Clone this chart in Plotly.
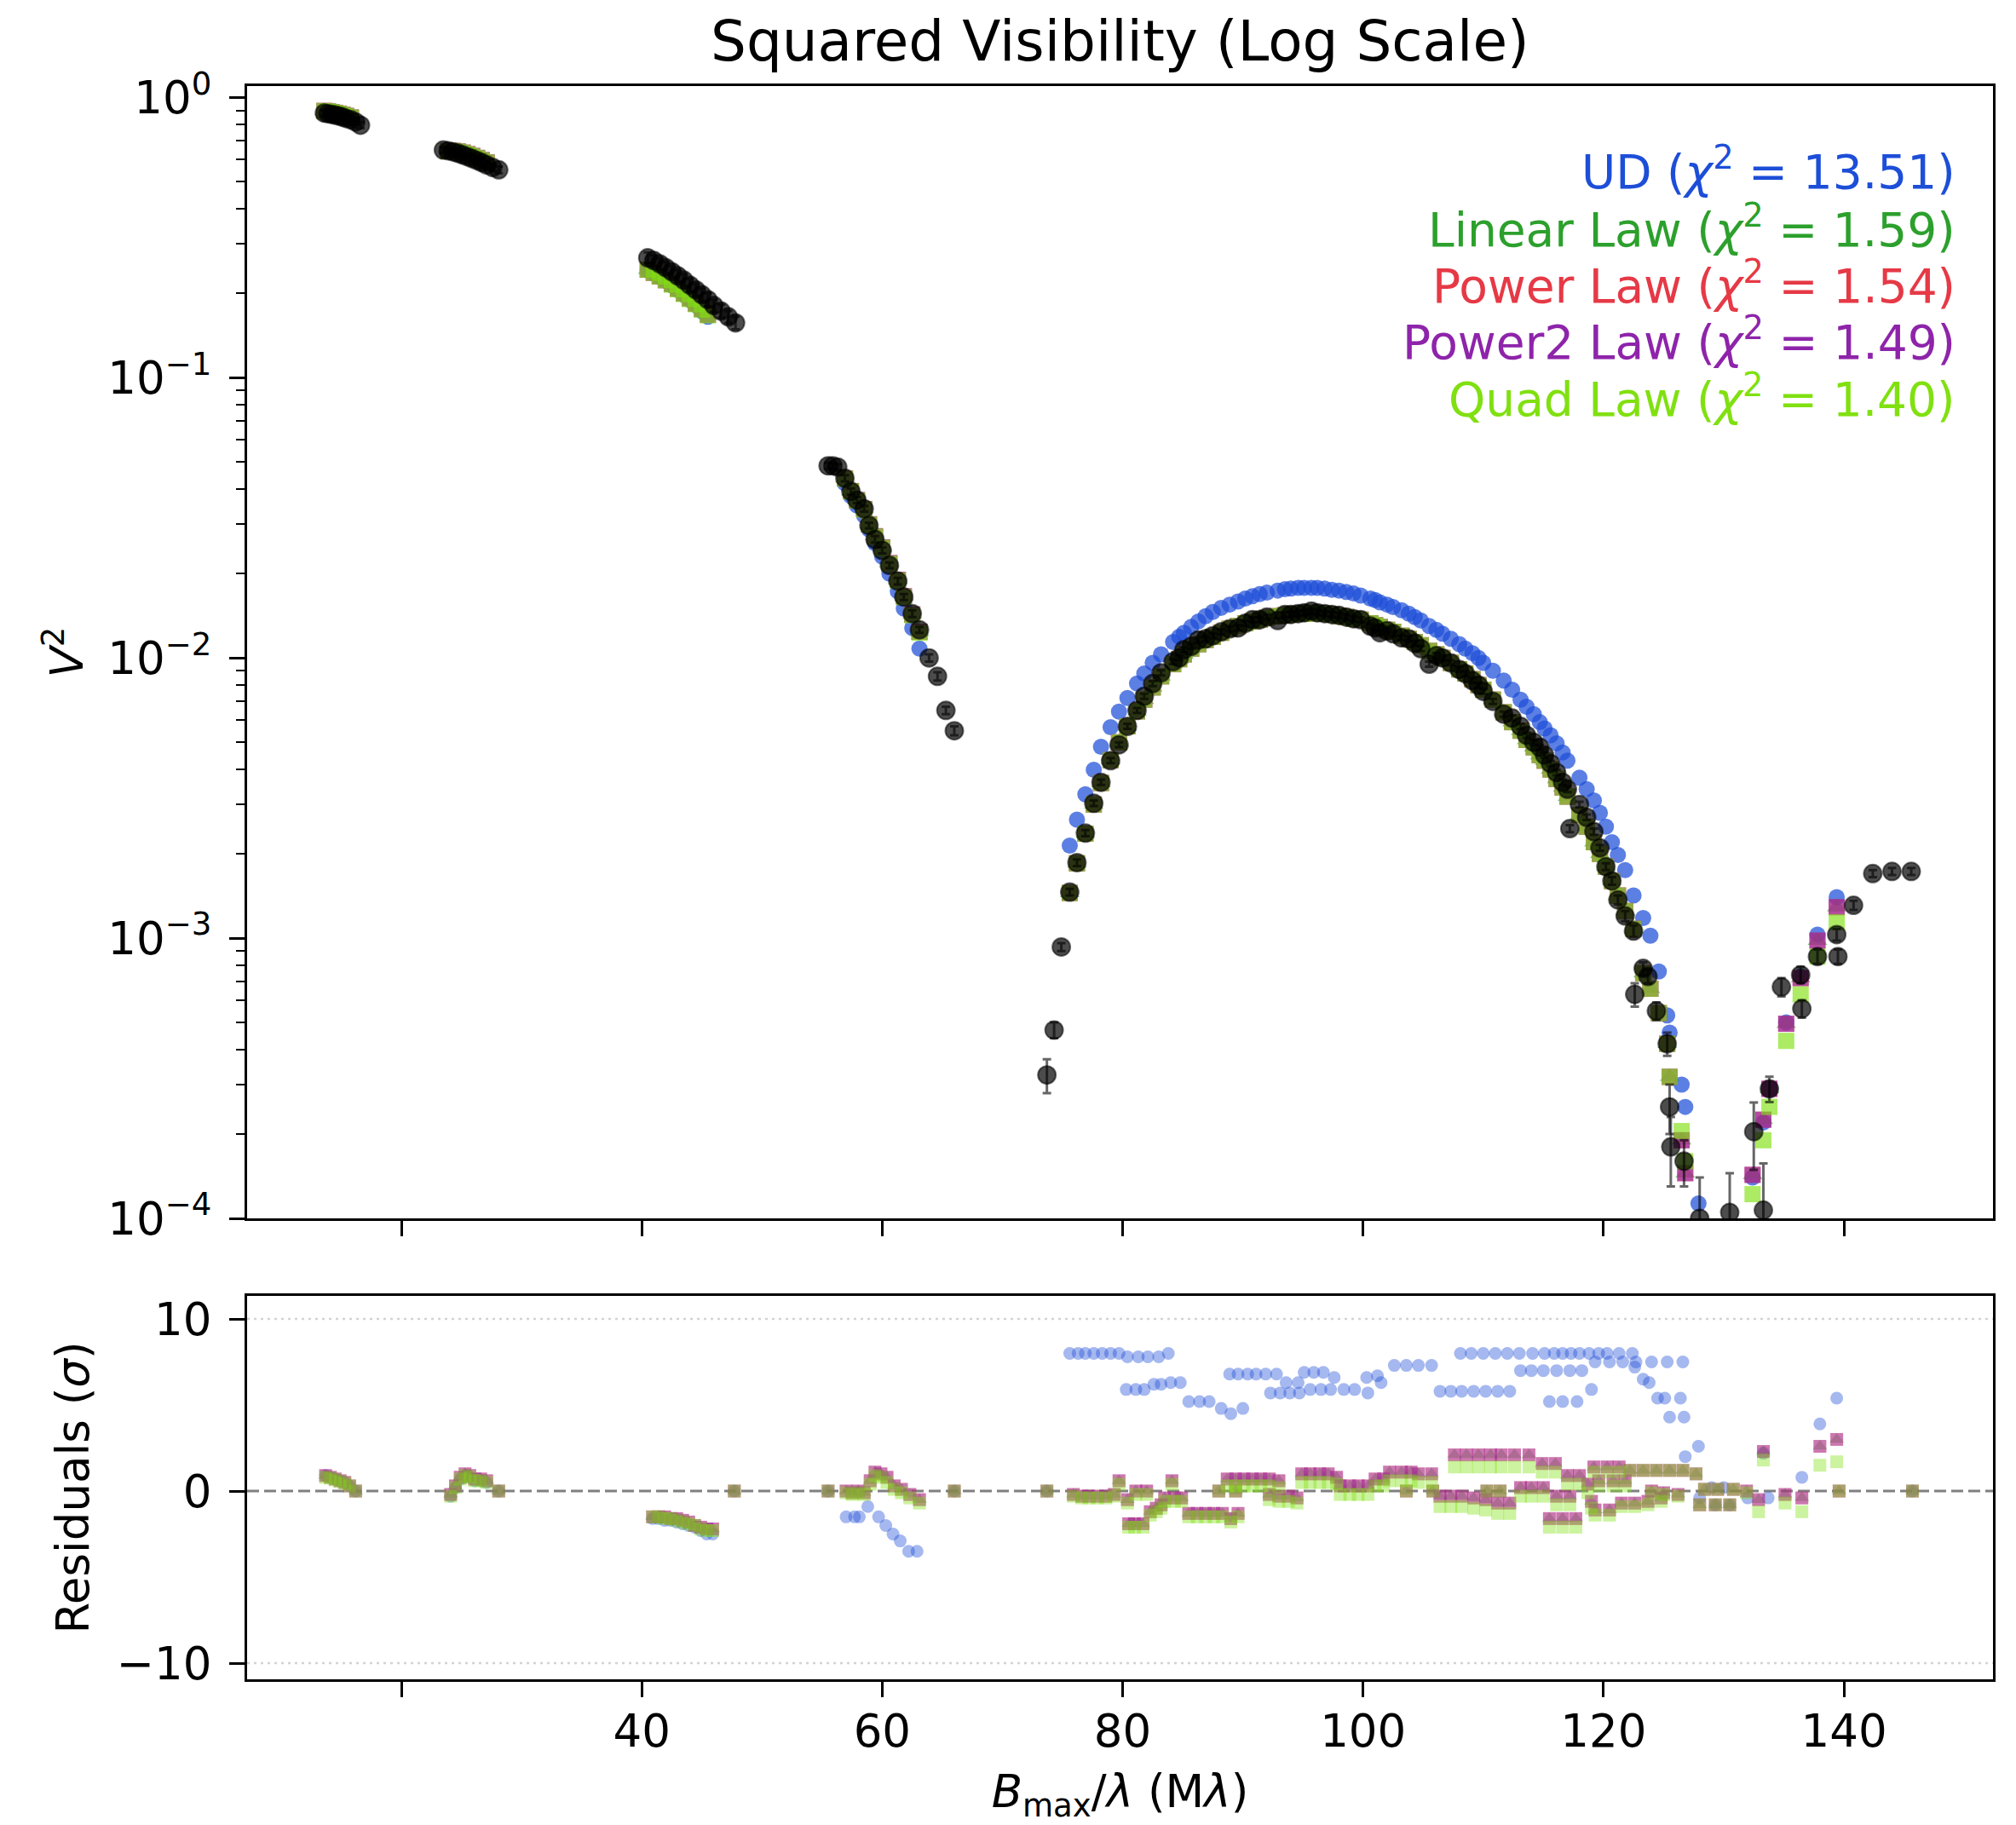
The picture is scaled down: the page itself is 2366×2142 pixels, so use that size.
import plotly.graph_objects as go

# ---------------- data ----------------
# observed squared visibilities (black points with error bars)
obs_x = [
    13.6, 13.9, 14.2, 14.5, 14.8, 15.1, 15.4, 15.8, 16.2, 16.6,
    23.5, 23.9, 24.3, 24.7, 25.1, 25.5, 25.9, 26.3, 26.7, 27.1, 27.6, 28.1,
    40.5, 41.0, 41.5, 42.0, 42.5, 43.0, 43.5, 44.0, 44.5, 45.0, 45.5, 46.0, 46.6, 47.2, 47.8,
    55.5, 55.9, 56.3, 56.9, 57.4, 57.9, 58.5, 58.9, 59.4, 60.0, 60.6, 61.3, 61.8, 62.5, 63.1,
    63.9, 64.6, 65.3, 66.0,
    73.7, 74.3, 74.9, 75.6, 76.2, 76.9, 77.6, 78.2, 79.0, 79.7,
    80.4, 81.2, 81.8, 82.5, 83.2, 84.2, 84.7, 85.1, 85.7, 86.3,
    86.9, 87.5, 88.2, 88.9, 89.6, 90.2, 90.8, 91.4, 92.0, 92.9,
    93.5, 94.0, 94.6, 95.1, 95.7, 96.2, 96.8, 97.4, 98.0, 98.6,
    99.2, 99.8, 100.6, 101.0, 101.4, 102.0, 102.5, 103.2, 103.8, 104.3,
    104.8, 105.5, 106.1, 106.6, 107.3, 108.0, 108.5, 109.1, 109.6, 110.0,
    110.8, 111.7, 112.4, 113.1, 113.6, 114.2, 114.7, 115.1, 115.6, 116.1,
    116.6, 117.0, 117.2, 118.0, 118.6, 119.2, 119.7, 120.2, 120.7, 121.2,
    121.8, 122.5, 122.6, 123.3, 123.7, 124.4, 125.3, 125.5, 125.6, 126.7,
    128.0, 130.5, 132.5, 133.3, 133.8, 134.8, 136.4, 136.5, 137.8, 139.4,
    139.5, 140.8, 142.4, 144.0, 145.6,
]
obs_v2 = [
    0.880, 0.876, 0.871, 0.866, 0.860, 0.852, 0.843, 0.833, 0.818, 0.797,
    0.650, 0.646, 0.640, 0.633, 0.624, 0.615, 0.606, 0.596, 0.586, 0.575, 0.563, 0.552,
    0.268, 0.262, 0.255, 0.247, 0.239, 0.231, 0.223, 0.214, 0.206, 0.198, 0.190, 0.181, 0.173, 0.165, 0.157,
    0.0485, 0.0485, 0.0480, 0.0438, 0.0393, 0.0366, 0.0341, 0.0297, 0.0265, 0.0242, 0.0214, 0.0188, 0.0165, 0.0144, 0.0126,
    0.0100, 0.0086, 0.0065, 0.0055,
    3.25e-4, 4.7e-4, 9.3e-4, 1.46e-3, 1.86e-3, 2.37e-3, 3.03e-3, 3.60e-3, 4.30e-3, 4.90e-3,
    5.70e-3, 6.50e-3, 7.30e-3, 8.10e-3, 8.85e-3, 9.70e-3, 1.00e-2, 1.07e-2, 1.10e-2, 1.16e-2,
    1.17e-2, 1.20e-2, 1.24e-2, 1.27e-2, 1.28e-2, 1.33e-2, 1.37e-2, 1.37e-2, 1.40e-2, 1.36e-2,
    1.43e-2, 1.43e-2, 1.44e-2, 1.45e-2, 1.47e-2, 1.45e-2, 1.44e-2, 1.43e-2, 1.42e-2, 1.40e-2,
    1.38e-2, 1.37e-2, 1.30e-2, 1.28e-2, 1.23e-2, 1.25e-2, 1.22e-2, 1.18e-2, 1.17e-2, 1.13e-2,
    1.08e-2, 9.5e-3, 1.02e-2, 1.00e-2, 9.6e-3, 9.1e-3, 8.8e-3, 8.3e-3, 8.0e-3, 7.6e-3,
    7.0e-3, 6.3e-3, 6.1e-3, 5.7e-3, 5.3e-3, 5.0e-3, 4.8e-3, 4.5e-3, 4.2e-3, 3.9e-3,
    3.6e-3, 3.4e-3, 2.46e-3, 3.0e-3, 2.7e-3, 2.4e-3, 2.1e-3, 1.8e-3, 1.6e-3, 1.37e-3,
    1.2e-3, 1.06e-3, 6.3e-4, 7.8e-4, 7.3e-4, 5.5e-4, 4.2e-4, 2.5e-4, 1.8e-4, 1.6e-4,
    1.0e-4, 1.05e-4, 2.04e-4, 1.07e-4, 2.9e-4, 6.7e-4, 7.4e-4, 5.6e-4, 8.6e-4, 1.03e-3,
    8.6e-4, 1.31e-3, 1.70e-3, 1.73e-3, 1.73e-3,
]
obs_err = [
    0.020, 0.020, 0.020, 0.020, 0.020, 0.020, 0.020, 0.020, 0.020, 0.020,
    0.015, 0.015, 0.015, 0.015, 0.015, 0.015, 0.015, 0.015, 0.015, 0.015, 0.015, 0.015,
    0.012, 0.012, 0.012, 0.012, 0.012, 0.011, 0.011, 0.011, 0.010, 0.010, 0.010, 0.009, 0.009, 0.008, 0.008,
    0.0012, 0.0012, 0.0012, 0.0011, 0.0010, 0.0009, 0.0008, 0.0007, 0.0007, 0.0006, 0.0005, 0.0005, 0.0004, 0.0004, 0.0003,
    0.0003, 0.0003, 0.0002, 0.0002,
    4.5e-5, 3e-5, 3e-5, 4e-5, 5e-5, 6e-5, 7e-5, 8e-5, 9e-5, 1.0e-4,
    1.2e-4, 1.3e-4, 1.5e-4, 1.6e-4, 1.8e-4, 2.0e-4, 2.0e-4, 2.2e-4, 2.2e-4, 2.4e-4,
    2.4e-4, 2.5e-4, 2.5e-4, 2.6e-4, 2.6e-4, 2.7e-4, 2.8e-4, 2.8e-4, 2.8e-4, 2.8e-4,
    2.9e-4, 2.9e-4, 2.9e-4, 2.9e-4, 2.9e-4, 2.9e-4, 2.9e-4, 2.9e-4, 2.9e-4, 2.9e-4,
    2.8e-4, 2.8e-4, 2.6e-4, 2.6e-4, 2.5e-4, 2.5e-4, 2.5e-4, 2.4e-4, 2.4e-4, 2.3e-4,
    2.2e-4, 2.0e-4, 2.1e-4, 2.0e-4, 2.0e-4, 1.9e-4, 1.8e-4, 1.7e-4, 1.6e-4, 1.6e-4,
    1.5e-4, 1.3e-4, 1.3e-4, 1.2e-4, 1.1e-4, 1.0e-4, 1.0e-4, 1.0e-4, 9e-5, 9e-5,
    8e-5, 8e-5, 7e-5, 7e-5, 6e-5, 6e-5, 5e-5, 5e-5, 5e-5, 5e-5,
    5e-5, 5e-5, 6e-5, 4e-5, 4e-5, 4e-5, 4e-5, 5e-5, 5e-5, 3e-5,
    4e-5, 4e-5, 5.5e-5, 5e-5, 3e-5, 5e-5, 5e-5, 4e-5, 5e-5, 5e-5,
    5e-5, 5e-5, 5e-5, 5e-5, 5e-5,
]

# model visibilities (Linear, Power and Power2 laws coincide at this scale)
mod_x = [
    13.6, 13.9, 14.2, 14.5, 14.8, 15.1, 15.4, 15.8,
    23.9, 24.3, 24.7, 25.1, 25.5, 25.9, 26.3, 26.7, 27.1,
    40.5, 41.0, 41.5, 42.0, 42.5, 43.0, 43.5, 44.0, 44.5, 45.0, 45.5,
    56.9, 57.4, 57.9, 58.5, 58.9, 59.4, 60.0, 60.6, 61.3, 61.8, 62.5, 63.1,
    75.6, 76.2, 76.9, 77.6, 78.2, 79.0, 79.7, 80.4, 81.2, 81.8,
    82.5, 83.2, 84.2, 84.7, 85.1, 85.7, 86.3, 86.9, 87.5, 88.2,
    88.9, 89.6, 90.2, 90.8, 91.4, 92.0, 92.9, 93.5, 94.0, 94.6,
    95.1, 95.7, 96.2, 96.8, 97.4, 98.0, 98.6, 99.2, 99.8, 100.6,
    101.0, 101.4, 102.0, 102.5, 103.2, 103.8, 104.3, 104.8, 105.5, 106.1,
    106.6, 107.3, 108.0, 108.5, 109.1, 109.6, 110.0, 110.8, 111.7, 112.4,
    113.1, 113.6, 114.2, 114.7, 115.1, 115.6, 116.1, 116.6, 117.0, 118.0,
    118.6, 119.2, 119.7, 120.2, 120.7, 121.2, 121.8, 122.5, 123.3, 123.9,
    124.6, 125.3, 125.5, 126.5, 126.8, 127.9, 129.3, 130.5, 132.4, 133.3,
    133.8, 135.2, 136.4, 137.8, 139.4,
]
ud_v2 = [
    0.893, 0.889, 0.884, 0.879, 0.873, 0.866, 0.858, 0.848,
    0.642, 0.643, 0.640, 0.634, 0.626, 0.617, 0.607, 0.596, 0.585,
    0.242, 0.236, 0.229, 0.222, 0.214, 0.206, 0.198, 0.190, 0.182, 0.173, 0.165,
    0.0420, 0.0378, 0.0350, 0.0322, 0.0288, 0.0257, 0.0230, 0.0200, 0.0173, 0.0150, 0.0128, 0.0108,
    2.14e-3, 2.65e-3, 3.26e-3, 3.99e-3, 4.82e-3, 5.66e-3, 6.43e-3, 7.20e-3, 8.10e-3, 8.80e-3,
    9.60e-3, 1.03e-2, 1.14e-2, 1.19e-2, 1.23e-2, 1.29e-2, 1.35e-2, 1.41e-2, 1.46e-2, 1.51e-2,
    1.55e-2, 1.59e-2, 1.63e-2, 1.66e-2, 1.69e-2, 1.71e-2, 1.74e-2, 1.76e-2, 1.77e-2, 1.78e-2,
    1.78e-2, 1.78e-2, 1.78e-2, 1.77e-2, 1.75e-2, 1.74e-2, 1.72e-2, 1.70e-2, 1.67e-2, 1.63e-2,
    1.61e-2, 1.58e-2, 1.55e-2, 1.52e-2, 1.48e-2, 1.44e-2, 1.40e-2, 1.36e-2, 1.30e-2, 1.26e-2,
    1.22e-2, 1.17e-2, 1.12e-2, 1.08e-2, 1.04e-2, 1.00e-2, 9.6e-3, 9.0e-3, 8.3e-3, 7.7e-3,
    7.1e-3, 6.7e-3, 6.3e-3, 5.9e-3, 5.6e-3, 5.3e-3, 4.96e-3, 4.6e-3, 4.3e-3, 3.74e-3,
    3.4e-3, 3.1e-3, 2.8e-3, 2.5e-3, 2.2e-3, 1.98e-3, 1.75e-3, 1.42e-3, 1.18e-3, 1.02e-3,
    7.6e-4, 5.3e-4, 4.6e-4, 3.0e-4, 2.5e-4, 1.13e-4, 3.0e-5, 5.0e-5, 1.4e-4, 2.2e-4,
    2.9e-4, 5.0e-4, 7.3e-4, 1.03e-3, 1.40e-3,
]
ld_v2 = [
    0.896, 0.892, 0.887, 0.882, 0.876, 0.868, 0.860, 0.849,
    0.644, 0.645, 0.642, 0.636, 0.628, 0.619, 0.609, 0.598, 0.587,
    0.243, 0.237, 0.230, 0.223, 0.216, 0.208, 0.200, 0.192, 0.184, 0.176, 0.168,
    0.0437, 0.0394, 0.0366, 0.0340, 0.0300, 0.0272, 0.0248, 0.0218, 0.0190, 0.0166, 0.0143, 0.0124,
    1.45e-3, 1.85e-3, 2.36e-3, 3.00e-3, 3.58e-3, 4.32e-3, 5.00e-3, 5.70e-3, 6.45e-3, 7.10e-3,
    7.85e-3, 8.60e-3, 9.50e-3, 9.90e-3, 1.03e-2, 1.08e-2, 1.12e-2, 1.16e-2, 1.19e-2, 1.23e-2,
    1.27e-2, 1.30e-2, 1.33e-2, 1.35e-2, 1.37e-2, 1.39e-2, 1.41e-2, 1.42e-2, 1.43e-2, 1.44e-2,
    1.44e-2, 1.45e-2, 1.44e-2, 1.44e-2, 1.43e-2, 1.41e-2, 1.40e-2, 1.38e-2, 1.37e-2, 1.33e-2,
    1.31e-2, 1.29e-2, 1.26e-2, 1.24e-2, 1.20e-2, 1.17e-2, 1.14e-2, 1.11e-2, 1.06e-2, 1.03e-2,
    1.00e-2, 9.6e-3, 9.1e-3, 8.8e-3, 8.4e-3, 8.0e-3, 7.7e-3, 7.1e-3, 6.4e-3, 5.9e-3,
    5.5e-3, 5.1e-3, 4.8e-3, 4.5e-3, 4.3e-3, 4.0e-3, 3.7e-3, 3.45e-3, 3.2e-3, 2.75e-3,
    2.5e-3, 2.2e-3, 2.0e-3, 1.8e-3, 1.6e-3, 1.42e-3, 1.25e-3, 1.08e-3, 7.5e-4, 6.6e-4,
    5.4e-4, 4.2e-4, 3.2e-4, 1.9e-4, 1.45e-4, 6.0e-5, 1.5e-5, 3.0e-5, 1.43e-4, 2.25e-4,
    2.9e-4, 4.95e-4, 7.2e-4, 9.8e-4, 1.29e-3,
]
quad_v2 = [
    0.895, 0.891, 0.886, 0.881, 0.875, 0.867, 0.859, 0.848,
    0.643, 0.644, 0.641, 0.635, 0.627, 0.618, 0.608, 0.597, 0.586,
    0.243, 0.237, 0.230, 0.223, 0.215, 0.207, 0.199, 0.191, 0.183, 0.175, 0.167,
    0.0436, 0.0393, 0.0365, 0.0339, 0.0299, 0.0271, 0.0247, 0.0217, 0.0189, 0.0165, 0.0142, 0.0123,
    1.45e-3, 1.85e-3, 2.36e-3, 3.00e-3, 3.58e-3, 4.32e-3, 5.00e-3, 5.70e-3, 6.45e-3, 7.10e-3,
    7.85e-3, 8.60e-3, 9.50e-3, 9.90e-3, 1.03e-2, 1.08e-2, 1.12e-2, 1.16e-2, 1.19e-2, 1.23e-2,
    1.27e-2, 1.30e-2, 1.33e-2, 1.35e-2, 1.37e-2, 1.39e-2, 1.41e-2, 1.42e-2, 1.43e-2, 1.44e-2,
    1.44e-2, 1.45e-2, 1.44e-2, 1.44e-2, 1.43e-2, 1.41e-2, 1.40e-2, 1.38e-2, 1.37e-2, 1.33e-2,
    1.31e-2, 1.29e-2, 1.26e-2, 1.24e-2, 1.20e-2, 1.17e-2, 1.14e-2, 1.11e-2, 1.06e-2, 1.03e-2,
    1.00e-2, 9.6e-3, 9.1e-3, 8.8e-3, 8.4e-3, 8.0e-3, 7.7e-3, 7.1e-3, 6.4e-3, 5.9e-3,
    5.5e-3, 5.1e-3, 4.8e-3, 4.5e-3, 4.3e-3, 4.0e-3, 3.7e-3, 3.45e-3, 3.2e-3, 2.75e-3,
    2.5e-3, 2.2e-3, 2.0e-3, 1.8e-3, 1.6e-3, 1.42e-3, 1.25e-3, 1.08e-3, 7.5e-4, 6.6e-4,
    5.4e-4, 4.2e-4, 3.2e-4, 2.05e-4, 1.6e-4, 5.0e-5, 1.2e-5, 2.5e-5, 1.22e-4, 1.9e-4,
    2.5e-4, 4.3e-4, 6.3e-4, 8.6e-4, 1.14e-3,
]

# residuals of the uniform disk fit, in sigma
res_ud_x = [
    13.7, 14.1, 14.5, 14.9, 15.3, 15.7, 16.2,
    24.1, 24.5, 24.9, 25.3, 25.7, 26.1, 26.6, 27.1, 28.1,
    40.9, 41.4, 41.9, 42.4, 42.9, 43.4, 43.9, 44.4, 44.9, 45.4, 45.9, 47.7,
    55.5, 57.0, 57.7, 58.1, 58.8, 59.7, 60.3, 60.9, 61.5, 62.2, 62.9, 66.0, 73.7,
    75.6, 76.3, 76.9, 77.6, 78.3, 79.0, 79.7, 80.4, 81.3, 82.1, 83.0, 83.8,
    80.3, 81.1, 81.8, 82.6, 83.2, 84.0, 84.8,
    85.5, 86.4, 87.2, 88.2, 89.0, 90.0,
    88.9, 89.6, 90.4, 91.1, 91.9, 92.8, 93.6, 94.6,
    92.3, 93.1, 93.9, 94.7,
    95.1, 95.9, 96.7, 97.6,
    95.6, 96.5, 97.3, 98.4, 99.3, 100.4,
    100.3, 101.2, 101.5,
    102.6, 103.6, 104.6, 105.7,
    106.4, 107.3, 108.2, 109.2, 110.2, 111.2, 112.2,
    108.1, 109.0, 110.0, 111.0, 112.0, 113.0, 114.1, 115.1, 115.9, 116.6,
    117.3, 118.0, 118.8, 119.6, 120.3, 121.3, 122.4,
    113.1, 114.0, 115.0, 116.1, 117.2, 118.2,
    115.5, 116.6, 117.8, 119.0,
    119.3, 120.5, 121.6, 122.7, 124.0, 125.3, 126.6,
    122.6, 123.3, 123.8, 124.5, 125.1, 126.4, 125.5, 126.7,
    126.8, 127.9, 128.0, 129.0, 130.0, 129.3, 130.5, 132.0, 133.3, 133.7,
    136.5, 138.0, 139.4, 145.7,
]
res_ud = [
    0.9, 0.8, 0.7, 0.6, 0.5, 0.3, 0.0,
    -0.3, 0.2, 0.7, 0.9, 0.8, 0.6, 0.6, 0.5, 0.0,
    -1.6, -1.6, -1.7, -1.7, -1.8, -1.9, -2.0, -2.1, -2.3, -2.5, -2.5, 0.0,
    0.0, -1.5, -1.5, -1.5, -0.9, -1.5, -2.0, -2.5, -2.9, -3.5, -3.5, 0.0, 0.0,
    8.0, 8.0, 8.0, 8.0, 8.0, 8.0, 8.0, 7.8, 7.8, 7.8, 7.8, 8.0,
    5.9, 5.9, 5.9, 6.2, 6.2, 6.3, 6.3,
    5.2, 5.2, 5.2, 4.8, 4.5, 4.8,
    6.8, 6.8, 6.8, 6.8, 6.8, 6.8, 6.3, 6.3,
    5.7, 5.7, 5.7, 5.7,
    6.9, 6.9, 6.9, 6.6,
    5.9, 5.9, 5.9, 5.9, 5.9, 5.7,
    6.6, 6.7, 6.3,
    7.3, 7.3, 7.3, 7.3,
    5.8, 5.8, 5.8, 5.8, 5.8, 5.8, 5.8,
    8.0, 8.0, 8.0, 8.0, 8.0, 8.0, 8.0, 8.0, 8.0, 8.0,
    8.0, 8.0, 8.0, 8.0, 8.0, 8.0, 8.0,
    7.0, 7.0, 7.0, 7.0, 7.0, 7.0,
    5.2, 5.2, 5.2, 5.9,
    7.5, 7.5, 7.5, 7.5, 7.5, 7.5, 7.5,
    7.2, 6.5, 6.3, 5.4, 5.4, 5.4, 4.3, 4.3,
    2.0, 2.6, -0.4, 0.2, 0.2, -0.8, -0.8, -0.4, 2.2, -0.4,
    0.8, 3.9, 5.4, 0.0,
]

# residuals of the limb-darkened fits (Linear/Power/Power2 overlap; Quad separate)
res_ld_x = [
    13.7, 14.1, 14.5, 14.9, 15.3, 15.7, 16.2,
    24.1, 24.5, 24.9, 25.3, 25.7, 26.1, 26.6, 27.1, 28.1,
    40.9, 41.4, 41.9, 42.4, 42.9, 43.4, 43.9, 44.4, 44.9, 45.4, 45.9, 47.7,
    55.5, 57.0, 57.5, 58.0, 58.5, 59.0, 59.4, 59.9, 60.4, 61.0, 61.6, 62.3, 63.1, 66.0, 73.7,
    75.9, 76.6, 77.2, 77.9, 78.6, 79.3, 79.7, 80.4, 80.5, 81.0,
    81.7, 81.1, 82.0, 82.3, 82.8, 83.2, 83.5, 84.1, 84.3, 84.9,
    85.5, 86.2, 86.9, 87.6, 88.0, 88.3, 89.0, 89.6, 88.7, 89.4,
    90.1, 90.8, 91.5, 92.2, 93.0, 89.4, 92.2, 93.0, 93.8, 94.5,
    94.9, 95.6, 96.4, 97.1, 97.8, 98.1, 98.9, 99.6, 100.4, 101.0,
    101.7, 102.2, 103.2, 104.0, 103.6, 104.6, 105.7, 105.8, 106.4, 107.3,
    108.2, 109.2, 110.2, 111.2, 112.2, 107.6, 108.6, 109.6, 110.6, 111.5,
    112.6, 113.8, 110.3, 111.4, 113.1, 114.0, 115.0, 114.9, 116.0, 115.5,
    116.6, 117.7, 116.1, 117.2, 117.0, 118.0, 118.7, 119.2, 120.3, 121.3,
    119.6, 120.8, 121.8, 119.0, 119.3, 120.5, 121.5, 122.6, 123.7, 124.8,
    122.2, 123.3, 124.4, 125.5, 126.6, 127.7, 124.0, 125.0, 126.2, 128.0,
    129.3, 130.5, 128.4, 129.5, 130.8, 131.9, 132.9, 133.3, 135.1, 136.5,
    138.0, 139.4, 139.6, 145.7,
]
res_ld = [
    0.9, 0.8, 0.7, 0.6, 0.5, 0.3, 0.0,
    -0.2, 0.3, 0.8, 1.0, 0.9, 0.7, 0.7, 0.6, 0.0,
    -1.5, -1.5, -1.5, -1.6, -1.6, -1.7, -1.8, -2.0, -2.1, -2.2, -2.2, 0.0,
    0.0, 0.0, -0.1, 0.0, -0.1, 0.6, 1.1, 1.0, 0.8, 0.3, 0.1, -0.2, -0.5, 0.0, 0.0,
    -0.2, -0.3, -0.3, -0.3, -0.3, -0.2, 0.6, -0.5, -1.9, -1.9,
    -1.9, 0.0, 0.0, -1.2, -1.0, -0.8, -0.4, 0.6, -0.4, -0.4,
    -1.3, -1.3, -1.3, -1.3, 0.0, -1.3, -1.6, -1.3, 0.7, 0.7,
    0.7, 0.7, 0.7, 0.7, 0.6, 0.0, -0.2, -0.3, -0.3, -0.4,
    1.0, 1.0, 1.0, 1.0, 0.8, 0.3, 0.3, 0.3, 0.3, 0.7,
    0.7, 1.1, 1.1, 1.1, 0.0, 1.0, 1.0, 0.0, -0.3, -0.3,
    -0.3, -0.4, -0.5, -0.7, -0.7, 2.1, 2.1, 2.1, 2.1, 2.1,
    2.1, 2.1, 0.0, 0.0, 0.2, 0.2, 0.2, 1.6, 1.6, -1.6,
    -1.6, -1.6, -0.3, -0.3, 0.9, 0.9, 0.4, 1.4, 1.4, 1.4,
    0.6, 0.6, 0.6, -0.6, -1.1, -1.1, -0.7, -0.7, -0.6, -0.4,
    1.2, 1.2, 1.2, 1.2, 1.2, 1.0, 0.0, -0.1, -0.2, -0.8,
    -0.8, -0.8, 0.1, 0.1, 0.1, 0.0, -0.5, 2.3, -0.2, -0.4,
    2.6, 3.0, 0.0, 0.0,
]
res_quad = [
    0.8, 0.75, 0.65, 0.55, 0.45, 0.3, 0.0,
    -0.3, 0.2, 0.7, 0.9, 0.8, 0.6, 0.6, 0.5, 0.0,
    -1.5, -1.5, -1.6, -1.6, -1.7, -1.8, -1.9, -2.0, -2.2, -2.3, -2.3, 0.0,
    0.0, -0.1, -0.2, -0.1, -0.2, 0.4, 0.9, 0.8, 0.5, 0.1, -0.1, -0.4, -0.7, 0.0, 0.0,
    -0.3, -0.4, -0.4, -0.4, -0.4, -0.3, 0.4, -0.7, -2.1, -2.1,
    -2.1, -0.2, -0.2, -1.4, -1.2, -1.0, -0.6, 0.4, -0.6, -0.6,
    -1.5, -1.5, -1.5, -1.5, 0.0, -1.5, -1.8, -1.5, 0.3, 0.3,
    0.3, 0.3, 0.3, 0.3, 0.2, 0.0, -0.5, -0.6, -0.6, -0.7,
    0.5, 0.5, 0.5, 0.5, 0.4, -0.2, -0.2, -0.2, -0.2, 0.3,
    0.3, 0.6, 0.6, 0.6, 0.0, 0.5, 0.5, 0.0, -0.9, -0.9,
    -0.9, -1.0, -1.1, -1.3, -1.3, 1.4, 1.4, 1.4, 1.4, 1.4,
    1.4, 1.4, 0.0, 0.0, -0.3, -0.3, -0.3, 1.1, 1.1, -2.1,
    -2.1, -2.1, -0.8, -0.8, 0.4, 0.4, -0.1, 1.1, 1.1, 1.1,
    0.3, 0.3, 0.3, -1.0, -1.4, -1.4, -0.9, -0.9, -0.8, -0.6,
    1.2, 1.2, 1.2, 1.2, 1.2, 1.0, -0.1, -0.2, -0.3, -0.8,
    -0.8, -0.8, 0.1, 0.1, 0.1, -0.1, -1.2, 1.8, -0.7, -1.2,
    1.5, 1.7, 0.0, 0.0,
]

model_names = ["UD", "Linear Law", "Power Law", "Power2 Law", "Quad Law"]
model_chi2 = [13.51, 1.59, 1.54, 1.49, 1.40]

# ---------------- styling ----------------
W, H = 2366, 2142
FONT = "DejaVu Sans"
COLORS = ["#1d4ed8", "#2ca02c", "#e63946", "#8e24aa", "#80e010"]
SYMBOLS = ["circle", "triangle-up", "square", "square", "square"]

# the page body adds an 8px margin, so everything is laid out 8px up/left
OFF = 8
PX_L, PX_R = 290 - OFF, 2339 - OFF
TOP_T, TOP_B = 101 - OFF, 1430 - OFF
BOT_T, BOT_B = 1521 - OFF, 1971 - OFF

fig = go.Figure()

# ---- top panel: models then data ----
main_y = [ud_v2, ld_v2, ld_v2, ld_v2, quad_v2]
main_size = [19, 20, 19, 19, 19]
main_alpha = [0.72, 0.6, 0.6, 0.6, 0.65]
for name, col, sym, yy, sz, al in zip(model_names, COLORS, SYMBOLS, main_y, main_size, main_alpha):
    fig.add_trace(go.Scatter(
        x=mod_x, y=yy, mode="markers", name=name,
        marker=dict(symbol=sym, size=sz, color=col, opacity=al, line=dict(width=0)),
        xaxis="x", yaxis="y", showlegend=False,
    ))

fig.add_trace(go.Scatter(
    x=obs_x, y=obs_v2, mode="markers", name="Data",
    error_y=dict(type="data", array=obs_err, color="rgba(0,0,0,0.6)", thickness=3, width=5),
    marker=dict(symbol="circle", size=21, color="rgba(0,0,0,0.7)",
                line=dict(color="rgba(0,0,0,0.55)", width=2)),
    xaxis="x", yaxis="y", showlegend=False,
))

# ---- bottom panel: residuals ----
res_y = [res_ud, res_ld, res_ld, res_ld, res_quad]
res_x = [res_ud_x, res_ld_x, res_ld_x, res_ld_x, res_ld_x]
for name, col, sym, xx, yy in zip(model_names, COLORS, SYMBOLS, res_x, res_y):
    fig.add_trace(go.Scatter(
        x=xx, y=yy, mode="markers", name=name + " residuals",
        marker=dict(symbol=sym, size=15, color=col, opacity=0.4, line=dict(width=0)),
        xaxis="x2", yaxis="y2", showlegend=False,
    ))

# reference lines in the residual panel
fig.add_shape(type="line", xref="x2 domain", yref="y2", x0=0, x1=1, y0=0, y1=0,
              line=dict(color="#808080", width=3, dash="14px,6px"), layer="below")
for lvl in (10, -10):
    fig.add_shape(type="line", xref="x2 domain", yref="y2", x0=0, x1=1, y0=lvl, y1=lvl,
                  line=dict(color="#d3d3d3", width=2.5, dash="3px,5px"), layer="below")

# ---- axes ----
xdom = [PX_L / W, PX_R / W]
top_dom = [1 - TOP_B / H, 1 - TOP_T / H]
bot_dom = [1 - BOT_B / H, 1 - BOT_T / H]
xrange_ = [7.17, 152.4]
xticks = [20, 40, 60, 80, 100, 120, 140]

axis_common = dict(
    showline=True, linecolor="black", linewidth=3, mirror=True,
    ticks="outside", ticklen=18, tickwidth=3, tickcolor="black",
    showgrid=False, zeroline=False, automargin=False,
    tickfont=dict(family=FONT, size=53, color="black"),
)

minor_vals = [m * 10.0 ** e for e in (-4, -3, -2, -1) for m in range(2, 10)]

fig.update_layout(
    width=W, height=H,
    margin=dict(l=0, r=0, t=0, b=0),
    paper_bgcolor="white", plot_bgcolor="white",
    font=dict(family=FONT, color="black"),
    xaxis=dict(domain=xdom, anchor="y", range=xrange_, tickvals=xticks,
               showticklabels=False, **axis_common),
    yaxis=dict(domain=top_dom, anchor="x", type="log", range=[-4, 0.041],
               tickvals=[1e-4, 1e-3, 1e-2, 1e-1, 1],
               ticktext=["10<sup>\u22124</sup>", "10<sup>\u22123</sup>", "10<sup>\u22122</sup>",
                         "10<sup>\u22121</sup>", "10<sup>0</sup>"],
               ticklabelstandoff=10,
               minor=dict(tickvals=minor_vals, ticks="outside", ticklen=10, tickwidth=2,
                          tickcolor="black"),
               title=dict(text="<i>V</i><sup>2</sup>", standoff=12,
                          font=dict(family=FONT, size=53, color="black")),
               **axis_common),
    xaxis2=dict(domain=xdom, anchor="y2", range=xrange_, tickvals=xticks,
                ticktext=[" ", "40", "60", "80", "100", "120", "140"],
                ticklabelstandoff=-6,
                title=dict(text="<i>B</i><sub>max</sub>/<i>\u03bb</i> (M<i>\u03bb</i>)", standoff=24,
                           font=dict(family=FONT, size=53, color="black")),
                **axis_common),
    yaxis2=dict(domain=bot_dom, anchor="x2", range=[-10.94, 11.34],
                tickvals=[-10, 0, 10], ticktext=["\u221210", "0", "10"],
                ticklabelstandoff=10,
                title=dict(text="Residuals (<i>\u03c3</i>)", standoff=15,
                           font=dict(family=FONT, size=53, color="black")),
                **axis_common),
)

# ---- title and text legend ----
annotations = [dict(
    text="Squared Visibility (Log Scale)", x=(PX_L + PX_R) / 2 / W, y=1 - (48 - OFF) / H,
    xref="paper", yref="paper", xanchor="center", yanchor="middle", showarrow=False,
    font=dict(family=FONT, size=66, color="black"),
)]
leg_rows = [198, 266, 332, 398, 465]
for name, chi, col, row in zip(model_names, model_chi2, COLORS, leg_rows):
    annotations.append(dict(
        text=f"{name} (<i>\u03c7</i><sup>2</sup> = {chi:.2f})",
        x=(2297 - OFF) / W, y=1 - (row - OFF) / H, xref="paper", yref="paper",
        xanchor="right", yanchor="middle", showarrow=False,
        font=dict(family=FONT, size=55, color=col),
    ))
fig.update_layout(annotations=annotations)

fig.write_html("out.html")
